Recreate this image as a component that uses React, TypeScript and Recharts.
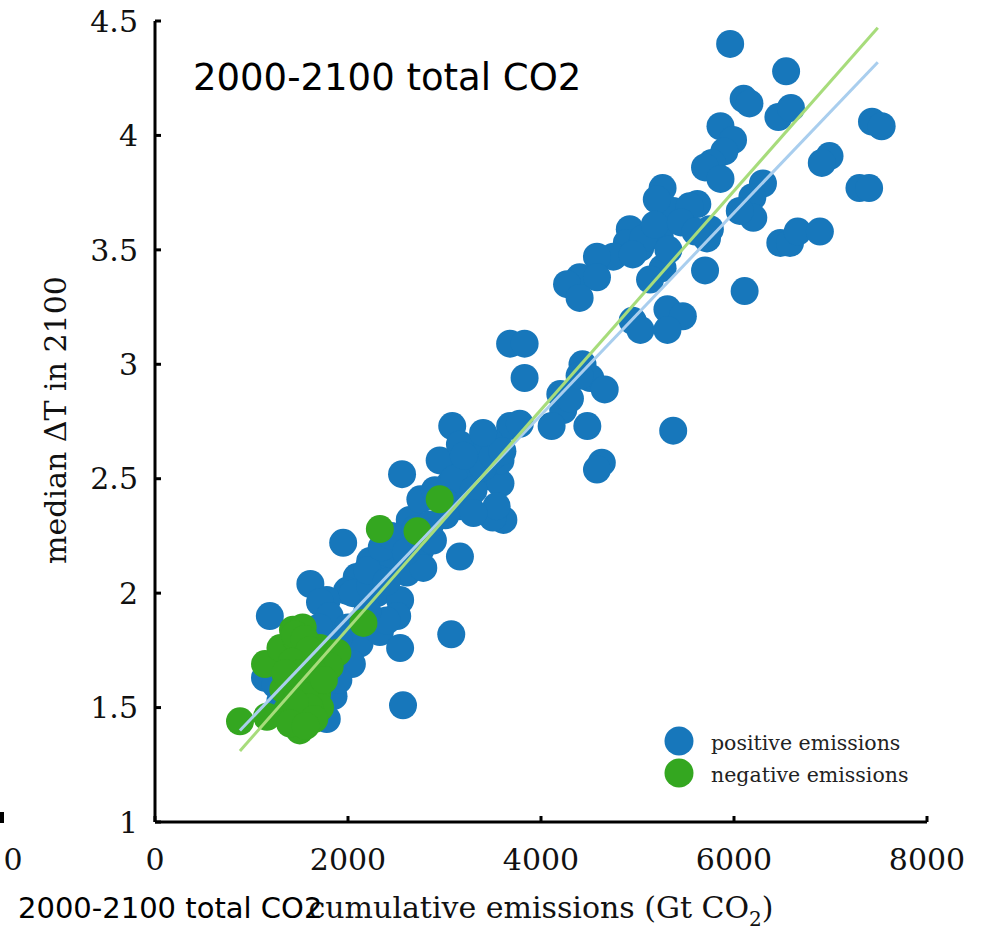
import React from 'react';
import { ScatterChart, Scatter, XAxis, YAxis, Label } from 'recharts';

// cumulative emissions (Gt CO2) vs median warming in 2100
const positive: [number, number][] = [
  [5960, 4.40], [6540, 4.28], [6100, 4.16], [6160, 4.14], [6460, 4.08], [6590, 4.12],
  [7430, 4.06], [7530, 4.04], [5860, 4.04], [5990, 3.98], [5900, 3.93], [6990, 3.91],
  [6910, 3.88], [5770, 3.88], [5700, 3.86], [5860, 3.81], [5260, 3.77], [6300, 3.79],
  [6190, 3.73], [7300, 3.77], [7400, 3.77], [5620, 3.70], [5370, 3.67], [5200, 3.72],
  [4920, 3.59], [4890, 3.53], [5030, 3.51], [6200, 3.64], [5750, 3.59], [6480, 3.53],
  [6580, 3.53], [6660, 3.58], [6890, 3.58], [5700, 3.41], [6110, 3.32], [5230, 3.56],
  [5060, 3.55], [4750, 3.47], [4580, 3.47], [4950, 3.48], [4400, 3.38], [4270, 3.35],
  [4580, 3.38], [4400, 3.29], [5260, 3.42], [5130, 3.37], [4950, 3.19], [5310, 3.24],
  [5470, 3.21], [5030, 3.15], [5310, 3.15], [3680, 3.09], [3830, 3.09], [3830, 2.94],
  [4430, 3.00], [4510, 2.94], [4660, 2.89], [4200, 2.87], [4230, 2.80], [4110, 2.73],
  [4480, 2.73], [5370, 2.71], [4630, 2.57], [4580, 2.54], [3080, 2.73], [3680, 2.73],
  [3470, 2.66], [3340, 2.62], [3130, 2.57], [2560, 2.52], [3260, 2.54], [3470, 2.51],
  [3580, 2.48], [3060, 2.48], [3610, 2.32], [3500, 2.33], [3160, 2.38], [3260, 2.43],
  [1950, 2.22], [2230, 2.14], [2470, 2.14], [2750, 2.19], [2880, 2.23], [3160, 2.16],
  [2090, 2.07], [2330, 2.06], [2610, 2.09], [2780, 2.11], [1990, 2.01], [2300, 2.00],
  [2540, 1.97], [1780, 1.97], [1610, 2.04], [1710, 1.96], [1810, 1.90], [2050, 2.00],
  [2230, 2.03], [1190, 1.90], [2120, 1.78], [2330, 1.83], [2540, 1.76], [2510, 1.90],
  [2570, 1.51], [3070, 1.82], [1140, 1.63], [1850, 1.55], [1780, 1.45], [1300, 1.53],
  [2490, 2.23], [2640, 2.32], [2950, 2.58], [2750, 2.41], [3010, 2.34], [5540, 3.69],
  [5180, 3.61], [6060, 3.67], [5720, 3.55], [3540, 2.38], [3580, 2.58], [3160, 2.65],
  [2040, 1.69], [3780, 2.74],
  [2200, 2.10], [2400, 2.05], [2350, 2.20], [2450, 2.25], [2600, 2.18], [2700, 2.28],
  [2900, 2.45], [3100, 2.50], [3300, 2.45], [3400, 2.55], [3200, 2.60], [3500, 2.60],
  [3600, 2.62], [2400, 1.88], [2200, 1.92], [2000, 1.85], [1900, 1.80], [1700, 1.85],
  [3300, 2.35], [3400, 2.70], [5450, 3.62], [5600, 3.58], [5320, 3.50], [4300, 2.85],
  [4400, 2.95], [2850, 2.30], [3000, 2.40], [1400, 1.72], [1250, 1.60], [1900, 1.62],
];

const negative: [number, number][] = [
  [881, 1.44], [1140, 1.69], [1430, 1.84], [1530, 1.85], [1500, 1.76], [1300, 1.76],
  [1710, 1.76], [1890, 1.74], [1810, 1.68], [1580, 1.62], [1680, 1.56], [1370, 1.49],
  [1530, 1.45], [1500, 1.40], [1710, 1.50], [1160, 1.46], [1330, 1.58], [2160, 1.87],
  [2330, 2.28], [2720, 2.27], [2950, 2.41], [1460, 1.80], [1610, 1.69],
  [1450, 1.82], [1550, 1.80], [1600, 1.75], [1420, 1.70], [1500, 1.65], [1650, 1.65],
  [1450, 1.60], [1550, 1.55], [1600, 1.50], [1450, 1.52], [1650, 1.45], [1400, 1.43],
  [1750, 1.62], [1350, 1.65], [1560, 1.42],
];

// linear fits, end points
const positiveFit: [number, number][] = [[880, 1.40], [7490, 4.32]];
const negativeFit: [number, number][] = [[880, 1.31], [7490, 4.47]];

const xTicks = [0, 2000, 4000, 6000, 8000];
const yTicks = [1, 1.5, 2, 2.5, 3, 3.5, 4, 4.5];

const BLUE = '#1777bb';
const GREEN = '#34a720';

const legendItems = [
  { name: 'positive emissions', color: BLUE },
  { name: 'negative emissions', color: GREEN },
];

const SERIF = '"DejaVu Serif", serif';
const SANS = '"DejaVu Sans", sans-serif';

const toPoints = (arr: [number, number][]) => arr.map(([x, y]) => ({ x, y }));

const dot = (fill: string) => (p: any) => <circle cx={p.cx} cy={p.cy} r={14} fill={fill} />;
const noDot = () => <g />;

const XTitle = ({ viewBox }: any) => {
  const cx = viewBox.x + viewBox.width / 2;
  return (
    <text x={cx} y={viewBox.y + 96} textAnchor="middle" fontFamily={SERIF} fontSize={30} fill="#111">
      cumulative emissions (Gt CO
      <tspan dy={8} fontSize={20}>2</tspan>
      <tspan dy={-8}>)</tspan>
    </text>
  );
};

const YTitle = ({ viewBox }: any) => {
  const x = viewBox.x + 11;
  const y = 420;
  return (
    <text x={x} y={y} transform={`rotate(-90 ${x} ${y})`} textAnchor="middle" fontFamily={SERIF} fontSize={30} fill="#111">
      median ΔT in 2100
    </text>
  );
};

export default function App() {
  const axisStroke = { stroke: '#000', strokeWidth: 3 };
  const tickFont = { fill: '#111', fontSize: 30, fontFamily: SERIF };
  return (
    <div style={{ position: 'absolute', left: 0, top: 0, width: 986, height: 936, background: '#fff' }}>
      <ScatterChart width={986} height={936} margin={{ top: 21, right: 59, bottom: 54, left: 55 }}>
        <XAxis
          type="number"
          dataKey="x"
          domain={[0, 8000]}
          ticks={xTicks}
          height={60}
          tickSize={-6}
          tickMargin={33}
          axisLine={axisStroke}
          tickLine={axisStroke}
          tick={tickFont}
        >
          <Label content={<XTitle />} />
        </XAxis>
        <YAxis
          type="number"
          dataKey="y"
          domain={[1, 4.5]}
          ticks={yTicks}
          width={100}
          tickSize={-6}
          tickMargin={23}
          axisLine={axisStroke}
          tickLine={axisStroke}
          tick={tickFont}
        >
          <Label content={<YTitle />} />
        </YAxis>
        <Scatter data={toPoints(positive)} shape={dot(BLUE)} isAnimationActive={false} />
        <Scatter data={toPoints(negative)} shape={dot(GREEN)} isAnimationActive={false} />
        {/* fit lines drawn over the points */}
        <Scatter
          data={toPoints(positiveFit)}
          line={{ stroke: '#a9ceee', strokeWidth: 3 }}
          shape={noDot}
          isAnimationActive={false}
        />
        <Scatter
          data={toPoints(negativeFit)}
          line={{ stroke: '#a7dc7b', strokeWidth: 3 }}
          shape={noDot}
          isAnimationActive={false}
        />
      </ScatterChart>

      <div style={{ position: 'absolute', left: 664, top: 725 }}>
        {legendItems.map((item) => (
          <div key={item.name} style={{ display: 'flex', alignItems: 'center', height: 32 }}>
            <svg width={30} height={30} style={{ display: 'block' }}>
              <circle cx={15} cy={15} r={14.5} fill={item.color} />
            </svg>
            <span style={{ marginLeft: 17, paddingTop: 3, fontFamily: SERIF, fontSize: 20.5, color: '#222' }}>
              {item.name}
            </span>
          </div>
        ))}
      </div>

      <svg width={986} height={936} style={{ position: 'absolute', left: 0, top: 0, pointerEvents: 'none' }}>
        <text x={193} y={90} fontFamily={SANS} fontSize={37} fill="#000">2000-2100 total CO2</text>
        <text x={18} y={918} fontFamily={SANS} fontSize={29} fill="#000">2000-2100 total CO2</text>
        <text x={13} y={870} textAnchor="middle" fontFamily={SERIF} fontSize={30} fill="#111">0</text>
        <rect x={0} y={812} width={4} height={11} fill="#000" />
      </svg>
    </div>
  );
}
